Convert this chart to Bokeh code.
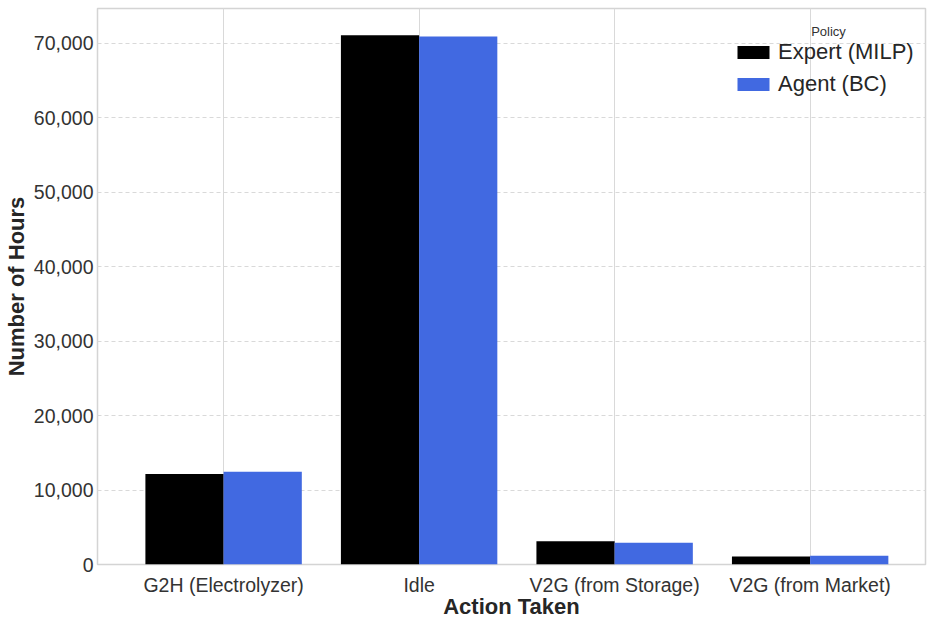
from bokeh.plotting import figure
from bokeh.models import (ColumnDataSource, FixedTicker, NumeralTickFormatter,
                          Range1d, Legend, LegendItem, Label)
from bokeh.embed import file_html
from bokeh.resources import INLINE

# Hours spent in each action, expert planner vs. behaviour-cloned agent
actions = ["G2H (Electrolyzer)", "Idle", "V2G (from Storage)", "V2G (from Market)"]
expert_hours = [12150, 71100, 3120, 1070]
agent_hours = [12450, 70950, 2910, 1160]
y_ticks = [0, 10000, 20000, 30000, 40000, 50000, 60000, 70000]

FONT = "Liberation Sans"
bar_w = 0.4
pos = list(range(len(actions)))

src = ColumnDataSource(dict(
    pos=pos,
    expert_x=[p - bar_w / 2 for p in pos],
    agent_x=[p + bar_w / 2 for p in pos],
    expert=expert_hours,
    agent=agent_hours,
))

p = figure(width=927, height=622, output_backend="svg", toolbar_location=None,
           x_range=Range1d(-0.645, 3.59), y_range=Range1d(0, 74700),
           min_border_left=97, min_border_right=2, min_border_top=8,
           min_border_bottom=58)

r_exp = p.vbar(x="expert_x", top="expert", width=bar_w, source=src,
               fill_color="#000000", line_color=None)
r_agt = p.vbar(x="agent_x", top="agent", width=bar_w, source=src,
               fill_color="#4169E1", line_color=None)

# axes
p.xaxis.ticker = FixedTicker(ticks=pos)
p.xaxis.major_label_overrides = {i: a for i, a in enumerate(actions)}
p.yaxis.ticker = FixedTicker(ticks=y_ticks)
p.yaxis.formatter = NumeralTickFormatter(format="0,0")
for ax in (p.xaxis[0], p.yaxis[0]):
    ax.axis_line_color = None
    ax.major_tick_line_color = None
    ax.minor_tick_line_color = None
    ax.major_tick_out = 0
    ax.major_tick_in = 0
    ax.major_label_text_font = FONT
    ax.major_label_text_font_size = "19.5px"
    ax.major_label_text_color = "#333333"
    ax.axis_label_text_font = FONT
    ax.axis_label_text_font_size = "22px"
    ax.axis_label_text_font_style = "bold"
    ax.axis_label_text_color = "#262626"
p.xaxis.axis_label = "Action Taken"
p.yaxis.axis_label = "Number of Hours"
p.xaxis.major_label_standoff = 9
p.xaxis.axis_label_standoff = -5
p.yaxis.major_label_standoff = 4
p.yaxis.axis_label_standoff = 2

# grid and frame
p.xgrid.grid_line_color = "#d9d9d9"
p.xgrid.grid_line_width = 1
p.ygrid.grid_line_color = "#d9d9d9"
p.ygrid.grid_line_dash = "4 3"
p.outline_line_color = "#d4d4d4"
p.outline_line_width = 1.5

# legend
legend = Legend(items=[LegendItem(label="Expert (MILP)", renderers=[r_exp]),
                       LegendItem(label="Agent (BC)", renderers=[r_agt])],
                location=(636, 467))
legend.border_line_color = None
legend.background_fill_alpha = 0
legend.padding = 0
legend.margin = 0
legend.spacing = 6
legend.glyph_width = 40
legend.glyph_height = 16
legend.label_height = 22
legend.label_standoff = 5
legend.label_text_font = FONT
legend.label_text_font_size = "22px"
legend.label_text_color = "#262626"
p.add_layout(legend)

p.add_layout(Label(x=731, y=533, x_units="screen", y_units="screen",
                   text="Policy", text_font=FONT, text_font_size="13px",
                   text_color="#333333", text_align="center",
                   text_baseline="middle"))

open("out.html", "w").write(file_html(p, INLINE))
